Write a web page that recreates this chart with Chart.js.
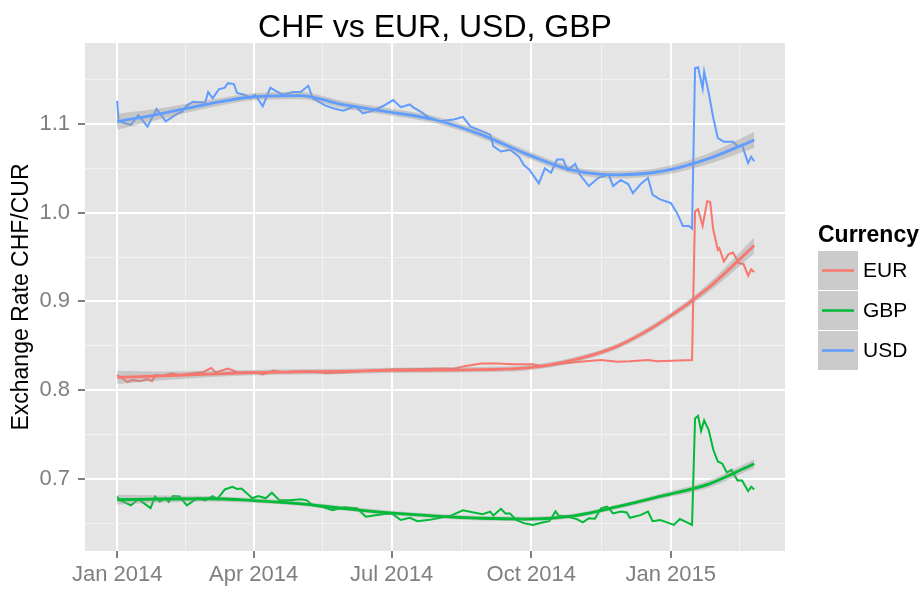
<!DOCTYPE html>
<html>
<head>
<meta charset="utf-8">
<script src="https://cdn.jsdelivr.net/npm/chart.js@4.4.0/dist/chart.umd.min.js"></script>
<style>
  html, body { margin: 0; padding: 0; background: #fff; }
  #wrap { width: 924px; height: 594px; }
</style>
</head>
<body>
<div id="wrap"><canvas id="rates"></canvas></div>
<script>
// x values are days counted from 1 Jan 2014
const chartTitle = 'CHF vs EUR, USD, GBP';
const yTitle = 'Exchange Rate CHF/CUR';
const legendTitle = 'Currency';
const currencies = ['EUR', 'GBP', 'USD'];
const colours = ['#F8766D', '#00BA38', '#619CFF'];

const eurDays = [0, 7, 10, 15, 20, 23, 25, 30, 36, 41, 50, 57, 62, 65, 73, 79, 90, 96, 103, 109,
  125, 138, 152, 165, 182, 195, 213, 222, 229, 240, 251, 261, 274, 281, 290, 305, 319, 330, 338, 350,
  356, 365, 379, 381, 383, 386, 389, 391, 393, 396, 397, 400, 403, 406, 410, 413, 416, 418, 420];
const eurRate = [0.817, 0.809, 0.8115, 0.810, 0.8124, 0.810, 0.817, 0.816, 0.819, 0.817,
  0.819, 0.8205, 0.825, 0.820, 0.8244, 0.8205, 0.820, 0.8177, 0.822, 0.820,
  0.8215, 0.819, 0.820, 0.8218, 0.8235, 0.8236, 0.8244, 0.824, 0.827, 0.830,
  0.830, 0.829, 0.829, 0.8266, 0.829, 0.832, 0.834, 0.832, 0.8325, 0.834,
  0.8325, 0.833, 0.834, 1.0015, 1.004, 0.985, 1.013, 1.012, 0.981, 0.958,
  0.960, 0.945, 0.953, 0.955, 0.943, 0.942, 0.929, 0.936, 0.933];

const gbpDays = [0, 2, 9, 14, 18, 22, 25, 28, 32, 34, 37, 41, 46, 53, 58, 63, 66, 71, 76, 79,
  82, 86, 89, 93, 98, 102, 107, 114, 121, 125, 129, 136, 142, 150, 158, 164, 169, 175, 181, 187,
  193, 198, 206, 213, 220, 228, 235, 241, 246, 248, 253, 256, 259, 263, 268, 274, 281, 285, 289, 291,
  297, 303, 307, 311, 315, 319, 323, 327, 332, 336, 338, 345, 350, 353, 358, 363, 367, 371, 376, 379,
  381, 383, 385, 387, 390, 393, 396, 399, 402, 405, 409, 412, 416, 418, 420];
const gbpRate = [0.680, 0.676, 0.670, 0.677, 0.672, 0.667, 0.680, 0.6745, 0.678, 0.674,
  0.6805, 0.680, 0.670, 0.6785, 0.6757, 0.6805, 0.677, 0.688, 0.691, 0.6885,
  0.689, 0.683, 0.678, 0.6805, 0.678, 0.6843, 0.6757, 0.6757, 0.677, 0.6757,
  0.670, 0.668, 0.6645, 0.668, 0.6667, 0.6573, 0.6585, 0.660, 0.661, 0.6536,
  0.656, 0.6522, 0.6537, 0.656, 0.6585, 0.6645, 0.662, 0.660, 0.663, 0.6585,
  0.6662, 0.661, 0.661, 0.6536, 0.650, 0.648, 0.651, 0.6522, 0.6634, 0.6585,
  0.6573, 0.6546, 0.651, 0.6555, 0.655, 0.6667, 0.6686, 0.661, 0.663, 0.662,
  0.656, 0.659, 0.663, 0.6522, 0.6536, 0.6506, 0.648, 0.6546, 0.6506, 0.648,
  0.768, 0.771, 0.754, 0.766, 0.755, 0.733, 0.7195, 0.717, 0.707, 0.710,
  0.698, 0.698, 0.686, 0.691, 0.688];

const usdDays = [0, 1, 9, 14, 20, 26, 32, 40, 43, 46, 50, 58, 60, 63, 67, 71, 73, 77, 79, 84,
  88, 91, 96, 101, 106, 109, 116, 121, 126, 129, 137, 142, 149, 157, 162, 169, 175, 182, 187, 193,
  195, 200, 206, 213, 222, 228, 233, 239, 246, 248, 253, 259, 265, 268, 272, 278, 282, 286, 290, 294,
  297, 302, 305, 311, 317, 324, 327, 332, 337, 340, 345, 350, 353, 358, 363, 365, 369, 373, 377, 379,
  381, 383, 386, 387, 390, 393, 396, 400, 406, 409, 412, 416, 418, 420];
const usdRate = [1.126, 1.103, 1.099, 1.110, 1.097, 1.117, 1.103, 1.112, 1.114, 1.121,
  1.125, 1.124, 1.136, 1.129, 1.139, 1.141, 1.146, 1.145, 1.135, 1.133,
  1.129, 1.133, 1.120, 1.141, 1.136, 1.133, 1.136, 1.136, 1.143, 1.129,
  1.121, 1.118, 1.115, 1.120, 1.112, 1.115, 1.120, 1.127, 1.119, 1.122,
  1.119, 1.114, 1.107, 1.103, 1.105, 1.108, 1.097, 1.093, 1.088, 1.075,
  1.069, 1.071, 1.063, 1.054, 1.048, 1.033, 1.050, 1.045, 1.060, 1.060,
  1.048, 1.055, 1.043, 1.030, 1.039, 1.043, 1.030, 1.037, 1.032, 1.022,
  1.032, 1.039, 1.020, 1.015, 1.012, 1.011, 1.000, 0.985, 0.985, 0.982,
  1.163, 1.164, 1.140, 1.159, 1.135, 1.107, 1.084, 1.080, 1.080, 1.075,
  1.076, 1.056, 1.063, 1.058];

// loess fit and half width of its grey band
const smoothDays = [0, 30, 60, 90, 120, 150, 180, 210, 240, 270, 300, 330, 360, 390, 420];
const eurSmooth = [0.8143, 0.816, 0.818, 0.8197, 0.8205, 0.8212, 0.8222, 0.8225, 0.823, 0.825, 0.8336, 0.8496, 0.878, 0.9155, 0.963];
const gbpSmooth = [0.6764, 0.6772, 0.6775, 0.6755, 0.672, 0.6665, 0.6615, 0.658, 0.6555, 0.6546, 0.658, 0.6685, 0.681, 0.694, 0.717];
const usdSmooth = [1.1026, 1.112, 1.1225, 1.1307, 1.132, 1.1215, 1.1135, 1.1045, 1.088, 1.066, 1.048, 1.0427, 1.047, 1.061, 1.082];
const eurBand = [0.0075, 0.005, 0.0035, 0.003, 0.003, 0.003, 0.003, 0.003, 0.003, 0.003, 0.003, 0.003, 0.0035, 0.005, 0.009];
const gbpBand = [0.0055, 0.004, 0.003, 0.0025, 0.0025, 0.0025, 0.0025, 0.0025, 0.0025, 0.0025, 0.0025, 0.0025, 0.003, 0.004, 0.005];
const usdBand = [0.009, 0.006, 0.0045, 0.004, 0.004, 0.004, 0.004, 0.004, 0.004, 0.004, 0.004, 0.004, 0.0045, 0.006, 0.009];

const xMajor = [0, 90, 181, 273, 365];
const xMajorLabels = ['Jan 2014', 'Apr 2014', 'Jul 2014', 'Oct 2014', 'Jan 2015'];
const xMinor = [45, 135.5, 227, 319, 410];
const yMajor = [0.7, 0.8, 0.9, 1.0, 1.1];
const yMinor = [0.65, 0.75, 0.85, 0.95, 1.05, 1.15];

const FONT = '"Liberation Sans", Arial, sans-serif';
Chart.defaults.font.family = FONT;

function pts(days, vals) {
    return days.map((d, i) => ({x: d, y: vals[i]}));
}
function isIn(list, v) {
    return list.some(m => Math.abs(m - v) < 1e-6);
}

const raw = [[eurDays, eurRate], [gbpDays, gbpRate], [usdDays, usdRate]];
const fits = [[eurSmooth, eurBand], [gbpSmooth, gbpBand], [usdSmooth, usdBand]];

let datasets = [];
currencies.forEach((cur, i) => {
    let fit = fits[i][0], half = fits[i][1];
    datasets.push({
        label: cur + ' fit', data: pts(smoothDays, fit),
        borderColor: colours[i], borderWidth: 2.8,
        cubicInterpolationMode: 'monotone', order: 1
    });
    datasets.push({
        label: cur + ' lo', data: pts(smoothDays, fit.map((v, k) => v - half[k])),
        borderColor: 'transparent', borderWidth: 0,
        cubicInterpolationMode: 'monotone', order: 2
    });
    datasets.push({
        label: cur + ' hi', data: pts(smoothDays, fit.map((v, k) => v + half[k])),
        borderColor: 'transparent', borderWidth: 0, fill: '-1',
        backgroundColor: 'rgba(153,153,153,0.4)',
        cubicInterpolationMode: 'monotone', order: 2
    });
    datasets.push({
        label: cur, data: pts(raw[i][0], raw[i][1]),
        borderColor: colours[i], borderWidth: 2, tension: 0, order: 3
    });
});

const panelBg = {
    id: 'panelBg',
    beforeDraw(chart) {
        const {ctx, chartArea: a} = chart;
        ctx.save();
        ctx.fillStyle = '#fff';
        ctx.fillRect(0, 0, chart.width, chart.height);
        ctx.fillStyle = '#E5E5E5';
        ctx.fillRect(a.left, a.top, a.right - a.left, a.bottom - a.top);
        ctx.restore();
    }
};

// title centred on the panel and a ggplot-like legend
const decorations = {
    id: 'decorations',
    afterDraw(chart) {
        const {ctx, chartArea: a} = chart;
        ctx.save();
        ctx.fillStyle = '#000';
        ctx.font = '32px ' + FONT;
        ctx.textAlign = 'center';
        ctx.textBaseline = 'alphabetic';
        ctx.fillText(chartTitle, (a.left + a.right) / 2, 36.5);

        const lx = a.right + 33, ly = 251;
        ctx.textAlign = 'left';
        ctx.font = 'bold 23px ' + FONT;
        ctx.fillText(legendTitle, lx, 241.5);
        currencies.forEach((cur, i) => {
            let top = ly + i * 40;
            ctx.fillStyle = '#CBCBCB';
            ctx.fillRect(lx, top, 40, 39);
            ctx.strokeStyle = colours[i];
            ctx.lineWidth = 2.5;
            ctx.beginPath();
            ctx.moveTo(lx + 4, top + 19.5);
            ctx.lineTo(lx + 36, top + 19.5);
            ctx.stroke();
            ctx.fillStyle = '#000';
            ctx.font = '21px ' + FONT;
            ctx.textBaseline = 'middle';
            ctx.fillText(cur, lx + 45, top + 20.5);
        });
        ctx.restore();
    }
};

new Chart(document.getElementById('rates'), {
    type: 'line',
    data: {datasets: datasets},
    options: {
        responsive: true,
        maintainAspectRatio: false,
        animation: false,
        layout: {padding: {top: 43, right: 139, left: 0, bottom: 0}},
        elements: {point: {radius: 0}},
        plugins: {
            legend: {display: false},
            tooltip: {enabled: false},
            title: {display: false}
        },
        scales: {
            x: {
                type: 'linear', min: -21.2, max: 440.3,
                afterBuildTicks: s => { s.ticks = xMajor.concat(xMinor).map(v => ({value: v})); },
                afterFit: s => { s.height = 43; },
                border: {display: false},
                grid: {
                    color: c => c.tick && isIn(xMajor, c.tick.value) ? '#FFFFFF' : '#F2F2F2',
                    lineWidth: c => c.tick && isIn(xMajor, c.tick.value) ? 2 : 1,
                    tickColor: c => c.tick && isIn(xMajor, c.tick.value) ? '#7F7F7F' : 'rgba(0,0,0,0)',
                    tickLength: 7,
                    tickWidth: 2
                },
                ticks: {
                    autoSkip: false, maxRotation: 0, minRotation: 0,
                    color: '#7F7F7F', font: {size: 22}, padding: 4,
                    callback: v => {
                        let k = xMajor.findIndex(m => Math.abs(m - v) < 1e-6);
                        return k >= 0 ? xMajorLabels[k] : '';
                    }
                }
            },
            y: {
                type: 'linear', min: 0.6186, max: 1.1913,
                afterBuildTicks: s => { s.ticks = yMajor.concat(yMinor).map(v => ({value: v})); },
                afterFit: s => { s.width = 85; },
                border: {display: false},
                grid: {
                    color: c => c.tick && isIn(yMajor, c.tick.value) ? '#FFFFFF' : '#F2F2F2',
                    lineWidth: c => c.tick && isIn(yMajor, c.tick.value) ? 2 : 1,
                    tickColor: c => c.tick && isIn(yMajor, c.tick.value) ? '#7F7F7F' : 'rgba(0,0,0,0)',
                    tickLength: 7,
                    tickWidth: 2
                },
                ticks: {
                    autoSkip: false,
                    color: '#7F7F7F', font: {size: 22}, padding: 8,
                    callback: v => isIn(yMajor, v) ? v.toFixed(1) : ''
                },
                title: {
                    display: true, text: yTitle, color: '#000',
                    font: {size: 23}, padding: {top: 8, bottom: 0}
                }
            }
        }
    },
    plugins: [panelBg, decorations]
});
</script>
</body>
</html>
